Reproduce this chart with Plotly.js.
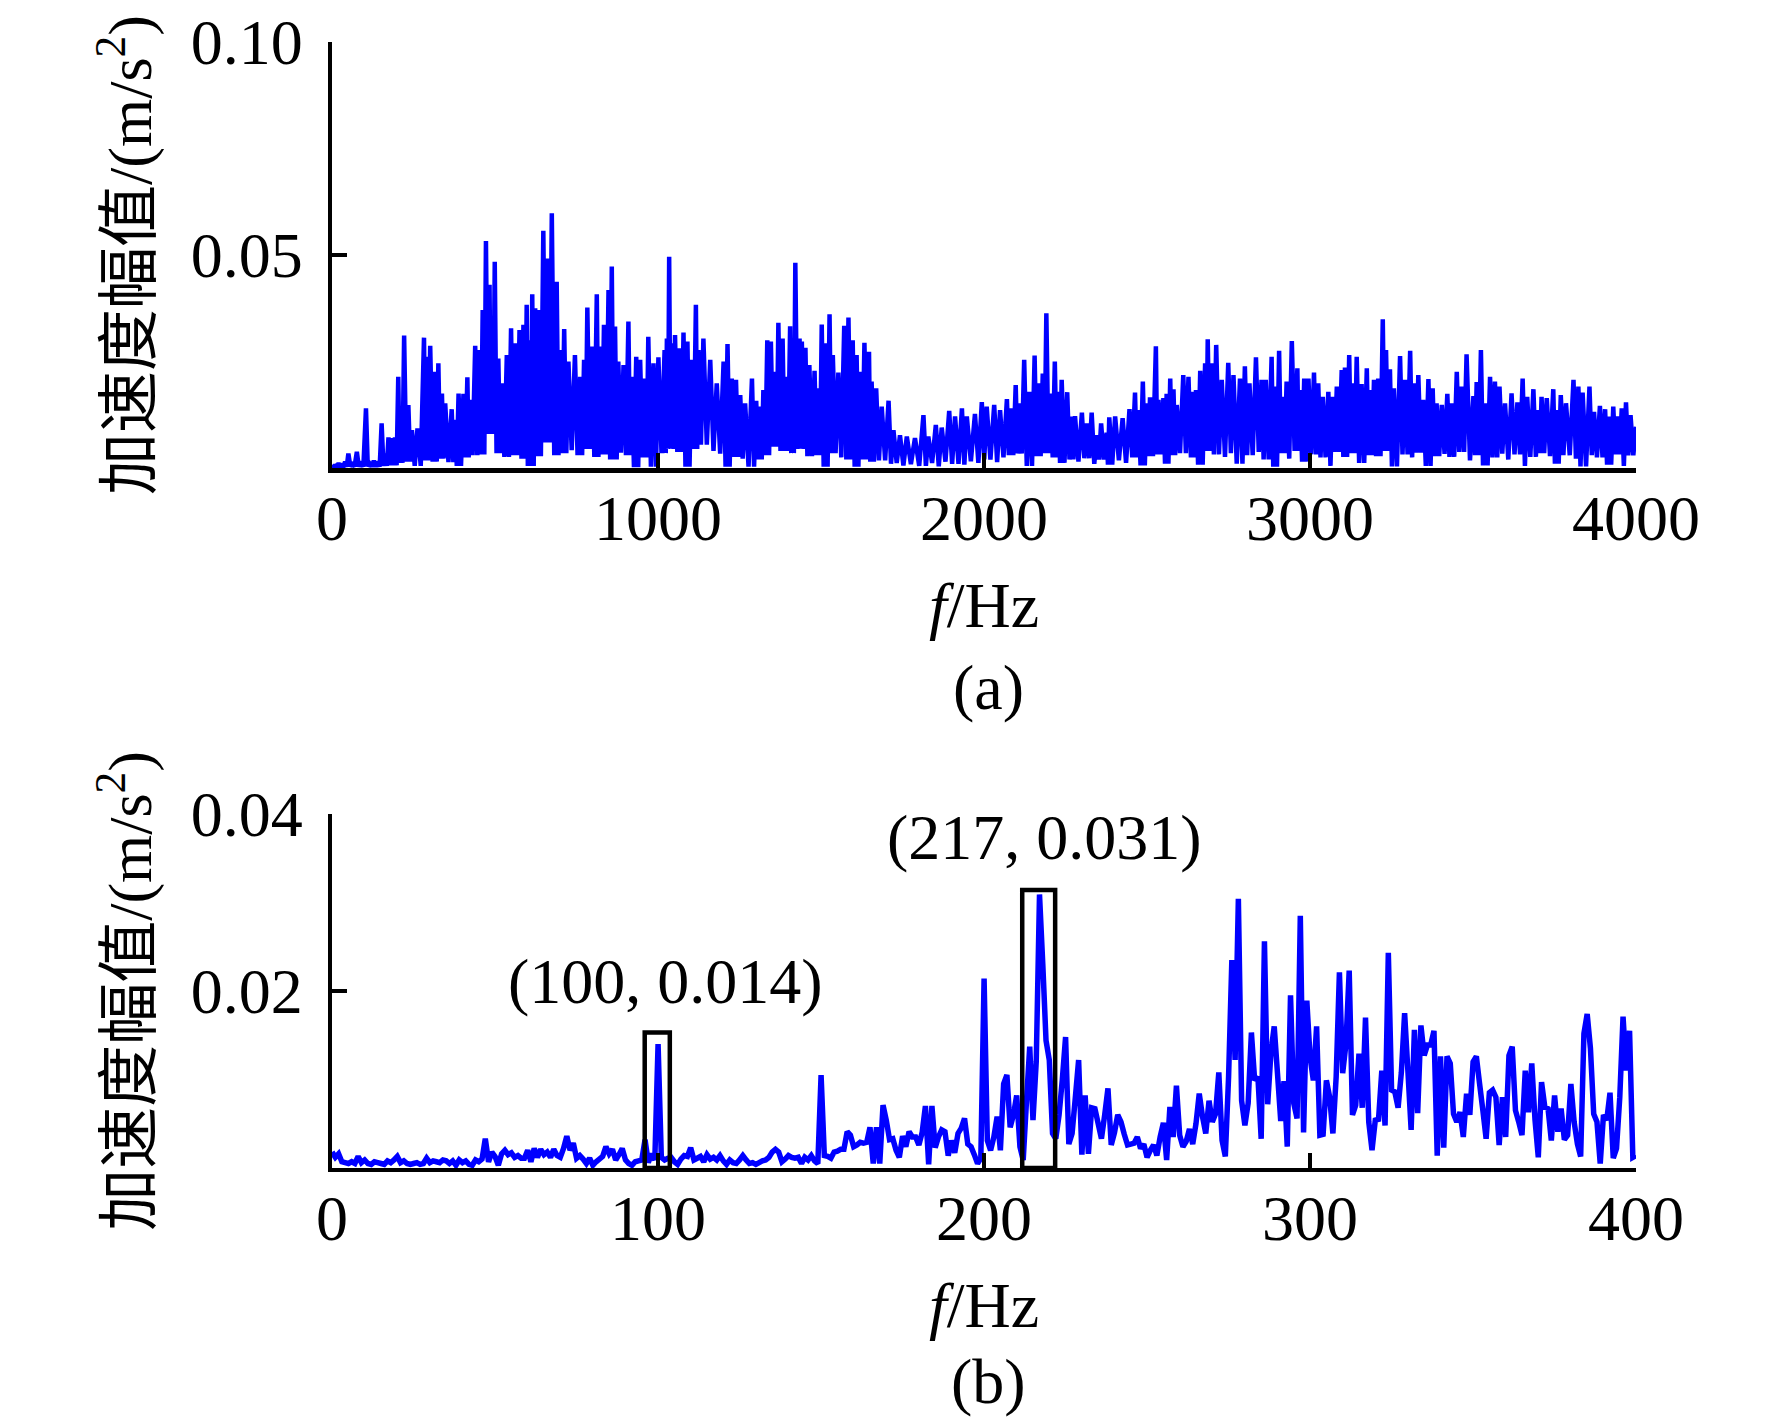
<!DOCTYPE html>
<html>
<head>
<meta charset="utf-8">
<script src="https://cdn.plot.ly/plotly-3.0.1.min.js"></script>
<style>
  body { margin: 0; background: #fff; }
  #chart { width: 1772px; height: 1420px; }
</style>
</head>
<body>
<div id="chart"></div>
<script>
/* (a) 0-4000 Hz spectrum: local peaks */
var topHz = [0,10,20,30,40,50,62,76,88,104,115,128,140,152,163,173,184,193,203,211,221,234,245,262,282,290,301,316,326,337,347,367,377,388,403,415,423,439,452,462,472,483,490,499,510,521,536,549,561,575,587,597,604,614,623,633,648,661,674,689,700,712,725,745,761,773,783,797,812,822,834,848,858,868,878,894,909,919,933,945,960,970,986,1001,1020,1027,1034,1042,1052,1066,1078,1090,1103,1116,1124,1139,1160,1180,1201,1213,1226,1239,1252,1267,1288,1301,1313,1323,1335,1346,1359,1369,
  1382,1393,1405,1412,1421,1434,1441,1452,1464,1480,1492,1502,1514,1526,1536,1553,1571,1584,1597,1609,1620,1633,1647,1655,1669,1686,1707,1722,1742,1763,1788,1814,1829,1852,1870,1893,1911,1932,1947,1972,1993,2008,2031,2049,2070,2082,2097,2108,2123,2139,2155,2167,2180,2191,2204,2217,2228,2238,2255,2269,2279,2300,2315,2330,2346,2359,2376,2384,2402,2425,2446,2463,2473,2487,2499,2509,2527,2535,2550,2560,2571,2581,2591,2611,2627,2642,2650,2663,2678,2686,2698,2712,
  2729,2749,2765,2785,2800,2814,2834,2851,2864,2882,2892,2905,2916,2928,2944,2961,2969,2982,2995,3012,3025,3039,3056,3069,3082,3097,3107,3120,3131,3143,3158,3174,3184,3196,3209,3223,3233,3245,3257,3276,3291,3307,3319,3332,3347,3363,3376,3388,3404,3421,3434,3450,3465,3480,3501,3511,3524,3537,3552,3567,3581,3598,3618,3636,3652,3666,3685,3700,3710,3726,3746,3756,3769,3785,3808,3823,3836,3857,3871,3889,3905,3917,3930,3943,3956,3969,3983,4000];
var topAmp = [0.0007,0.0005,0.0011,0.0006,0.0015,0.0034,0.0009,0.0038,0.0015,0.0140,0.0011,0.0017,0.0015,0.0105,0.0034,0.0072,0.0070,0.0072,0.0214,0.0105,0.0311,0.0148,0.0089,0.0093,0.0306,0.0261,0.0287,0.0226,0.0246,0.0175,0.0152,0.0138,0.0113,0.0175,0.0174,0.0213,0.0160,0.0287,0.0277,0.0371,0.0533,0.0430,0.0336,0.0484,0.0257,0.0199,0.0265,0.0328,0.0293,0.0324,0.0336,0.0383,0.0300,0.0408,0.0375,0.0371,0.0557,0.0492,0.0598,0.0437,0.0277,0.0326,0.0250,0.0265,0.0214,0.0254,0.0377,0.0285,0.0408,0.0285,0.0336,0.0418,0.0473,0.0332,0.0250,0.0242,0.0344,0.0214,0.0261,0.0254,0.0210,0.0308,0.0246,0.0260,0.0277,0.0304,0.0496,0.0293,0.0312,0.0281,0.0318,0.0297,0.0254,0.0383,0.0277,0.0304,0.0254,0.0199,0.0250,0.0291,0.0210,0.0207,0.0171,0.0152,0.0210,0.0158,0.0144,0.0183,0.0300,0.0297,0.0226,0.0341,
  0.0304,0.0214,0.0333,0.0285,0.0482,0.0304,0.0297,0.0282,0.0242,0.0228,0.0187,0.0337,0.0293,0.0361,0.0265,0.0224,0.0334,0.0353,0.0300,0.0265,0.0226,0.0294,0.0273,0.0203,0.0187,0.0144,0.0158,0.0089,0.0077,0.0074,0.0070,0.0124,0.0074,0.0101,0.0095,0.0134,0.0121,0.0140,0.0121,0.0127,0.0155,0.0144,0.0148,0.0136,0.0162,0.0140,0.0195,0.0152,0.0254,0.0179,0.0264,0.0199,0.0222,0.0363,0.0175,0.0250,0.0179,0.0207,0.0178,0.0121,0.0122,0.0130,0.0105,0.0130,0.0077,0.0105,0.0083,0.0119,0.0121,0.0117,0.0138,0.0177,0.0136,0.0203,0.0152,0.0166,0.0286,0.0160,0.0164,0.0174,0.0210,0.0185,0.0148,0.0218,0.0214,0.0179,0.0183,0.0228,0.0246,0.0302,0.0246,0.0289,
  0.0207,0.0247,0.0218,0.0210,0.0239,0.0199,0.0260,0.0207,0.0207,0.0261,0.0191,0.0275,0.0167,0.0203,0.0298,0.0234,0.0183,0.0210,0.0210,0.0224,0.0199,0.0167,0.0179,0.0167,0.0191,0.0230,0.0236,0.0265,0.0199,0.0261,0.0197,0.0234,0.0183,0.0207,0.0210,0.0349,0.0277,0.0232,0.0187,0.0263,0.0207,0.0275,0.0199,0.0218,0.0160,0.0209,0.0187,0.0152,0.0148,0.0174,0.0152,0.0226,0.0191,0.0267,0.0169,0.0202,0.0277,0.0152,0.0214,0.0203,0.0191,0.0152,0.0175,0.0154,0.0210,0.0167,0.0185,0.0136,0.0167,0.0164,0.0185,0.0136,0.0171,0.0152,0.0207,0.0191,0.0177,0.0191,0.0132,0.0146,0.0138,0.0121,0.0144,0.0121,0.0140,0.0154,0.0124,0.0097];
/* (a) lower edge of the dense band, one value per 25 Hz */
var topLow = [0.0003,0.0003,0.0004,0.0003,0.0004,0.0003,0.0005,0.0006,
  0.0012,0.0015,0.0005,0.0018,0.0015,0.0022,0.0014,0.0005,
  0.0025,0.0030,0.0032,0.0080,0.0035,0.0026,0.0030,0.0022,
  0.0005,0.0028,0.0060,0.0030,0.0035,0.0042,0.0030,0.0045,
  0.0026,0.0032,0.0020,0.0036,0.0030,0.0002,0.0025,0.0003,
  0.0035,0.0045,0.0038,0.0003,0.0045,0.0055,0.0040,0.0034,
  0.0003,0.0026,0.0022,0.0003,0.0020,0.0030,0.0050,0.0040,
  0.0035,0.0045,0.0028,0.0030,0.0003,0.0035,0.0025,0.0020,
  0.0003,0.0020,0.0015,0.0018,0.0010,0.0012,0.0006,0.0009,
  0.0005,0.0012,0.0004,0.0015,0.0010,0.0008,0.0016,0.0012,
  0.0020,0.0014,0.0025,0.0030,0.0034,0.0005,0.0028,0.0035,
  0.0025,0.0012,0.0020,0.0015,0.0023,0.0010,0.0020,0.0008,
  0.0018,0.0012,0.0025,0.0006,0.0028,0.0032,0.0010,0.0030,
  0.0035,0.0025,0.0008,0.0040,0.0032,0.0026,0.0035,0.0010,
  0.0030,0.0038,0.0020,0.0003,0.0035,0.0022,0.0040,0.0015,
  0.0032,0.0025,0.0005,0.0038,0.0026,0.0035,0.0012,0.0030,
  0.0028,0.0040,0.0004,0.0032,0.0025,0.0036,0.0005,0.0028,
  0.0033,0.0026,0.0038,0.0018,0.0030,0.0006,0.0025,0.0034,
  0.0020,0.0032,0.0005,0.0026,0.0035,0.0028,0.0010,0.0030,
  0.0022,0.0004,0.0030,0.0025,0.0008,0.0032,0.0005,0.0030];

/* (b) 0-400 Hz spectrum, one value per 1 Hz */
var lowAmp = [0.0018,0.0012,0.0016,0.0007,0.0006,0.0005,0.0007,0.0005,0.0013,0.0006,
  0.0009,0.0005,0.0004,0.0007,0.0006,0.0005,0.0004,0.0008,0.0006,0.0009,
  0.0013,0.0006,0.0008,0.0005,0.0004,0.0005,0.0006,0.0004,0.0005,0.0011,
  0.0006,0.0008,0.0007,0.0006,0.0009,0.0008,0.0005,0.0008,0.0003,0.0009,
  0.0006,0.0008,0.0004,0.0003,0.0009,0.0007,0.0010,0.0033,0.0007,0.0018,
  0.0013,0.0003,0.0016,0.0020,0.0015,0.0017,0.0012,0.0014,0.0011,0.0011,
  0.0020,0.0007,0.0022,0.0012,0.0021,0.0015,0.0018,0.0012,0.0021,0.0014,
  0.0012,0.0022,0.0036,0.0020,0.0028,0.0011,0.0014,0.0010,0.0005,0.0011,
  0.0003,0.0007,0.0010,0.0013,0.0024,0.0016,0.0021,0.0009,0.0015,0.0022,
  0.0009,0.0005,0.0003,0.0007,0.0008,0.0009,0.0032,0.0006,0.0016,0.0009,
  0.0140,0.0012,0.0009,0.0011,0.0012,0.0007,0.0004,0.0010,0.0014,0.0013,
  0.0023,0.0009,0.0011,0.0013,0.0007,0.0015,0.0010,0.0012,0.0009,0.0014,
  0.0008,0.0004,0.0009,0.0006,0.0005,0.0009,0.0014,0.0009,0.0005,0.0006,
  0.0004,0.0006,0.0008,0.0009,0.0012,0.0018,0.0021,0.0018,0.0007,0.0010,
  0.0014,0.0012,0.0011,0.0012,0.0005,0.0012,0.0009,0.0014,0.0008,0.0005,
  0.0105,0.0014,0.0013,0.0011,0.0018,0.0019,0.0021,0.0021,0.0041,0.0037,
  0.0024,0.0026,0.0029,0.0028,0.0029,0.0046,0.0005,0.0046,0.0005,0.0071,
  0.0054,0.0032,0.0033,0.0020,0.0012,0.0036,0.0024,0.0041,0.0035,0.0035,
  0.0026,0.0040,0.0070,0.0004,0.0070,0.0023,0.0035,0.0043,0.0041,0.0014,
  0.0031,0.0017,0.0039,0.0045,0.0056,0.0027,0.0024,0.0015,0.0005,0.0011,
  0.0214,0.0031,0.0020,0.0035,0.0058,0.0020,0.0095,0.0105,0.0046,0.0060,
  0.0082,0.0024,0.0009,0.0075,0.0137,0.0054,0.0120,0.0309,0.0231,0.0144,
  0.0122,0.0039,0.0033,0.0060,0.0100,0.0148,0.0027,0.0039,0.0080,0.0122,
  0.0015,0.0082,0.0016,0.0068,0.0067,0.0050,0.0033,0.0060,0.0090,0.0026,
  0.0040,0.0060,0.0052,0.0038,0.0026,0.0027,0.0028,0.0035,0.0022,0.0027,
  0.0012,0.0020,0.0026,0.0014,0.0035,0.0051,0.0009,0.0069,0.0035,0.0093,
  0.0037,0.0024,0.0030,0.0044,0.0027,0.0050,0.0084,0.0058,0.0039,0.0076,
  0.0052,0.0061,0.0108,0.0031,0.0013,0.0103,0.0235,0.0122,0.0304,0.0076,
  0.0048,0.0073,0.0153,0.0099,0.0103,0.0033,0.0256,0.0072,0.0131,0.0160,
  0.0107,0.0053,0.0098,0.0024,0.0195,0.0073,0.0056,0.0285,0.0040,0.0189,
  0.0125,0.0099,0.0160,0.0037,0.0038,0.0099,0.0080,0.0039,0.0103,0.0221,
  0.0107,0.0140,0.0223,0.0060,0.0071,0.0129,0.0068,0.0170,0.0052,0.0020,
  0.0054,0.0055,0.0110,0.0048,0.0243,0.0088,0.0086,0.0068,0.0108,0.0175,
  0.0110,0.0043,0.0156,0.0062,0.0161,0.0127,0.0139,0.0139,0.0155,0.0014,
  0.0126,0.0023,0.0126,0.0118,0.0061,0.0052,0.0063,0.0035,0.0084,0.0060,
  0.0120,0.0126,0.0095,0.0065,0.0033,0.0085,0.0088,0.0080,0.0026,0.0080,
  0.0035,0.0127,0.0137,0.0065,0.0052,0.0037,0.0110,0.0063,0.0118,0.0054,
  0.0012,0.0097,0.0069,0.0067,0.0031,0.0082,0.0041,0.0067,0.0032,0.0037,
  0.0095,0.0052,0.0027,0.0013,0.0152,0.0174,0.0135,0.0061,0.0052,0.0005,
  0.0060,0.0054,0.0085,0.0011,0.0022,0.0080,0.0171,0.0110,0.0155,0.0012,
  0.0014];

/* marked peaks in (b) */
var markHz = [100, 217];
var markAmp = [0.014, 0.031];

var FONT = '"Liberation Serif", "Noto Sans CJK SC", serif';
var BLUE = '#0000ff';

function drawSpectrum() {
	// zigzag between the read peaks and the lower edge of the band
	var xa = [], ya = [];
	for (var i = 0; i < topHz.length; i++) {
		xa.push(topHz[i]);
		ya.push(topAmp[i]);
		if (i < topHz.length - 1) {
			var mid = (topHz[i] + topHz[i + 1]) / 2;
			xa.push(mid);
			ya.push(topLow[Math.min(topLow.length - 1, Math.floor(mid / 25))]);
		}
	}

	var xb = [];
	for (var k = 0; k < lowAmp.length; k++) {
		xb.push(k);
	}

	var traceA = {
		x: xa, y: ya, type: 'scatter', mode: 'lines',
		line: {color: BLUE, width: 4.5, simplify: false},
		xaxis: 'x', yaxis: 'y', showlegend: false, hoverinfo: 'skip'
	};
	var traceB = {
		x: xb, y: lowAmp, type: 'scatter', mode: 'lines',
		line: {color: BLUE, width: 5.5, simplify: false},
		xaxis: 'x2', yaxis: 'y2', showlegend: false, hoverinfo: 'skip'
	};

	var axisBase = {
		showline: true, linecolor: '#000', linewidth: 4.5,
		ticks: 'inside', ticklen: 15, tickwidth: 4.5, tickcolor: '#000',
		showgrid: false, zeroline: false,
		tickfont: {family: FONT, size: 64, color: '#000'}
	};
	function ax(extra) {
		return Object.assign({}, axisBase, extra);
	}
	var yTitle = {
		text: '加速度幅值/(m/s<sup>2</sup>)',
		font: {family: FONT, size: 62, color: '#000'},
		standoff: 20
	};
	var xTitle = {
		text: '<i>f</i>/Hz',
		font: {family: FONT, size: 64, color: '#000'},
		standoff: 30
	};

	var labels = [];
	for (var m = 0; m < markHz.length; m++) {
		labels.push('(' + markHz[m] + ', ' + markAmp[m].toFixed(3) + ')');
	}

	var layout = {
		width: 1772, height: 1420,
		margin: {l: 0, r: 0, t: 0, b: 0},
		paper_bgcolor: '#fff', plot_bgcolor: '#fff',
		font: {family: FONT, size: 64, color: '#000'},
		xaxis: ax({domain: [0.1874, 0.9233], range: [0, 4000], anchor: 'y',
			tickvals: [0, 1000, 2000, 3000, 4000], ticklabelstandoff: -9, title: xTitle}),
		yaxis: ax({domain: [0.6704, 0.9704], range: [0, 0.1], anchor: 'x',
			tickvals: [0.05, 0.1], ticktext: ['0.05', '0.10'], ticklabelstandoff: 12, title: yTitle}),
		xaxis2: ax({domain: [0.1874, 0.9233], range: [0, 400], anchor: 'y2',
			tickvals: [0, 100, 200, 300, 400], ticklabelstandoff: -9, title: xTitle}),
		yaxis2: ax({domain: [0.1775, 0.4268], range: [0, 0.04], anchor: 'x2',
			tickvals: [0.02, 0.04], ticktext: ['0.02', '0.04'], ticklabelstandoff: 12, title: yTitle}),
		shapes: [
			{type: 'rect', xref: 'x2', yref: 'y2', x0: 95.9, x1: 103.6, y0: 0, y1: 0.0153,
				line: {color: '#000', width: 4.5}},
			{type: 'rect', xref: 'x2', yref: 'y2', x0: 211.7, x1: 221.8, y0: 0, y1: 0.0314,
				line: {color: '#000', width: 4.5}}
		],
		annotations: [
			{xref: 'x2', yref: 'y2', x: 102.4, y: 0.0211, text: labels[0], showarrow: false,
				xanchor: 'center', yanchor: 'middle', font: {family: FONT, size: 64}},
			{xref: 'x2', yref: 'y2', x: 218.4, y: 0.0373, text: labels[1], showarrow: false,
				xanchor: 'center', yanchor: 'middle', font: {family: FONT, size: 64}},
			{xref: 'paper', yref: 'paper', x: 0.558, y: 0.5156, text: '(a)', showarrow: false,
				xanchor: 'center', yanchor: 'middle', font: {family: FONT, size: 64}},
			{xref: 'paper', yref: 'paper', x: 0.558, y: 0.0272, text: '(b)', showarrow: false,
				xanchor: 'center', yanchor: 'middle', font: {family: FONT, size: 64}}
		]
	};

	Plotly.newPlot('chart', [traceA, traceB], layout, {displayModeBar: false, staticPlot: true});
}

window.onload = drawSpectrum;
</script>
</body>
</html>
